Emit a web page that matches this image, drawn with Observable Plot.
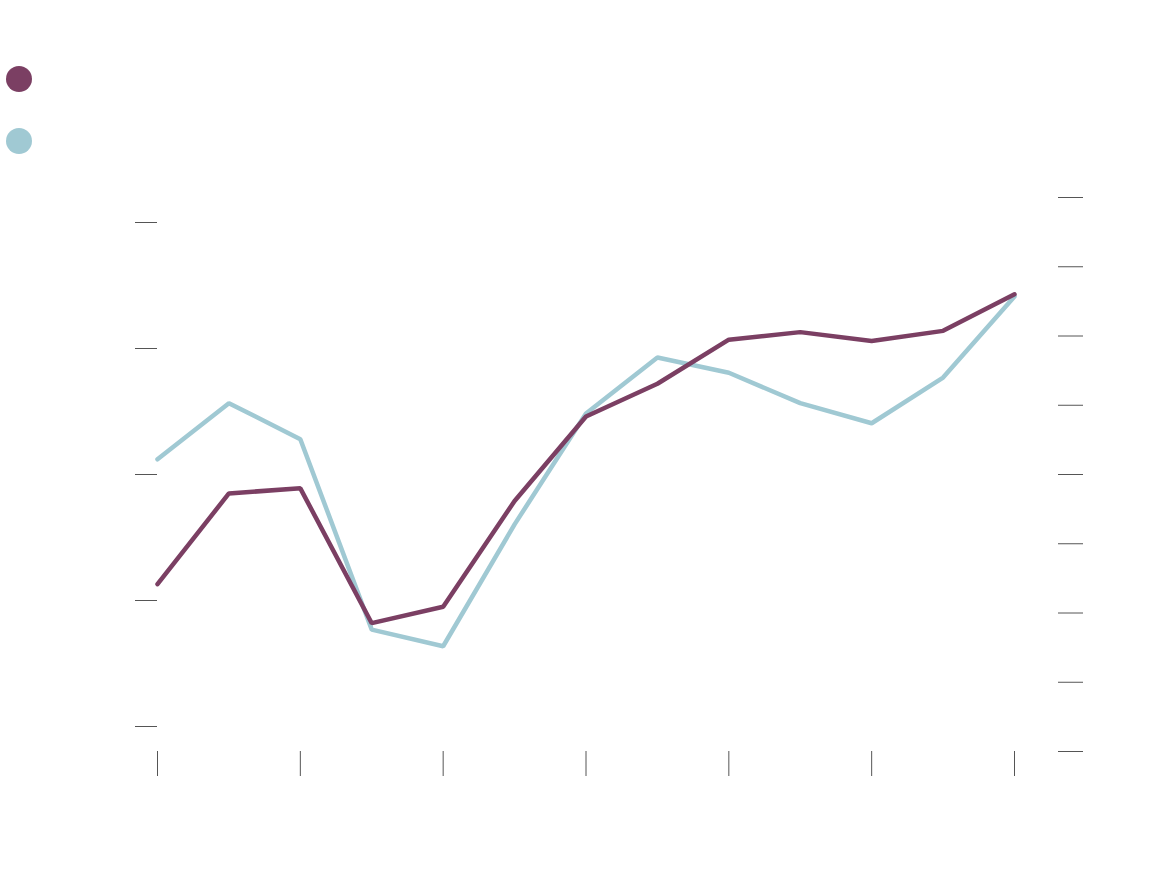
<!DOCTYPE html>
<html>
<head>
<meta charset="utf-8">
<script src="https://cdn.jsdelivr.net/npm/d3@7"></script>
<script src="https://cdn.jsdelivr.net/npm/@observablehq/plot@0.6"></script>
<style>
  html, body { margin: 0; padding: 0; background: #fff; }
  #legend { position: relative; height: 170px; width: 1160px; }
  .dot { position: absolute; width: 26px; height: 26px; border-radius: 50%; }
</style>
</head>
<body>
<div id="legend"></div>
<div id="chart"></div>
<script>
// Data
const years = [2008, 2009, 2010, 2011, 2012, 2013, 2014, 2015, 2016, 2017, 2018, 2019, 2020];
const seriesNames = ["A", "B"];
const seriesColors = ["#7b3f63", "#a0c9d3"];
// Series A (left axis)
const seriesA = [21.3, 28.5, 28.9, 18.2, 19.5, 27.9, 34.6, 37.2, 40.7, 41.3, 40.6, 41.4, 44.3];
// Series B (right axis)
const seriesB = [42.2, 50.3, 45.1, 17.6, 15.2, 32.8, 48.8, 56.9, 54.7, 50.3, 47.4, 54.0, 65.7];
const xTicks = [2008, 2010, 2012, 2014, 2016, 2018, 2020];
const leftTicks = [10, 20, 30, 40, 50];
const rightTicks = [0, 10, 20, 30, 40, 50, 60, 70, 80];

// map left-axis values onto the right-axis (y scale) units
const leftToRight = (v) => (25 + (v - 10) * 12.6) / 6.925;

// Legend
const legend = document.getElementById("legend");
[[79, 0], [141, 1]].forEach(([cy, i]) => {
  const d = document.createElement("div");
  d.className = "dot";
  d.style.left = (19 - 13) + "px";
  d.style.top = (cy - 13) + "px";
  d.style.background = seriesColors[i];
  legend.appendChild(d);
});

const rowsA = years.map((year, i) => ({year, value: leftToRight(seriesA[i])}));
const rowsB = years.map((year, i) => ({year, value: seriesB[i]}));

const chart = Plot.plot({
  width: 1160,
  height: 724,
  marginTop: 27,
  marginBottom: 143,
  marginLeft: 157,
  marginRight: 146,
  style: {background: "#fff"},
  x: {domain: [2008, 2020]},
  y: {domain: [0, 80]},
  marks: [
    Plot.axisX({ticks: xTicks, tickSize: 25, tickFormat: () => "", stroke: "#555", label: null}),
    Plot.axisY({anchor: "left", ticks: leftTicks.map(leftToRight), tickSize: 22, tickFormat: () => "", stroke: "#555", label: null}),
    Plot.axisY({anchor: "right", ticks: rightTicks, tickSize: 25, dx: 43, tickFormat: () => "", stroke: "#555", label: null}),
    Plot.line(rowsB, {x: "year", y: "value", stroke: seriesColors[1], strokeWidth: 4.5, strokeLinejoin: "miter", strokeLinecap: "round"}),
    Plot.line(rowsA, {x: "year", y: "value", stroke: seriesColors[0], strokeWidth: 4.5, strokeLinejoin: "miter", strokeLinecap: "round"})
  ]
});
document.getElementById("chart").appendChild(chart);
</script>
</body>
</html>
